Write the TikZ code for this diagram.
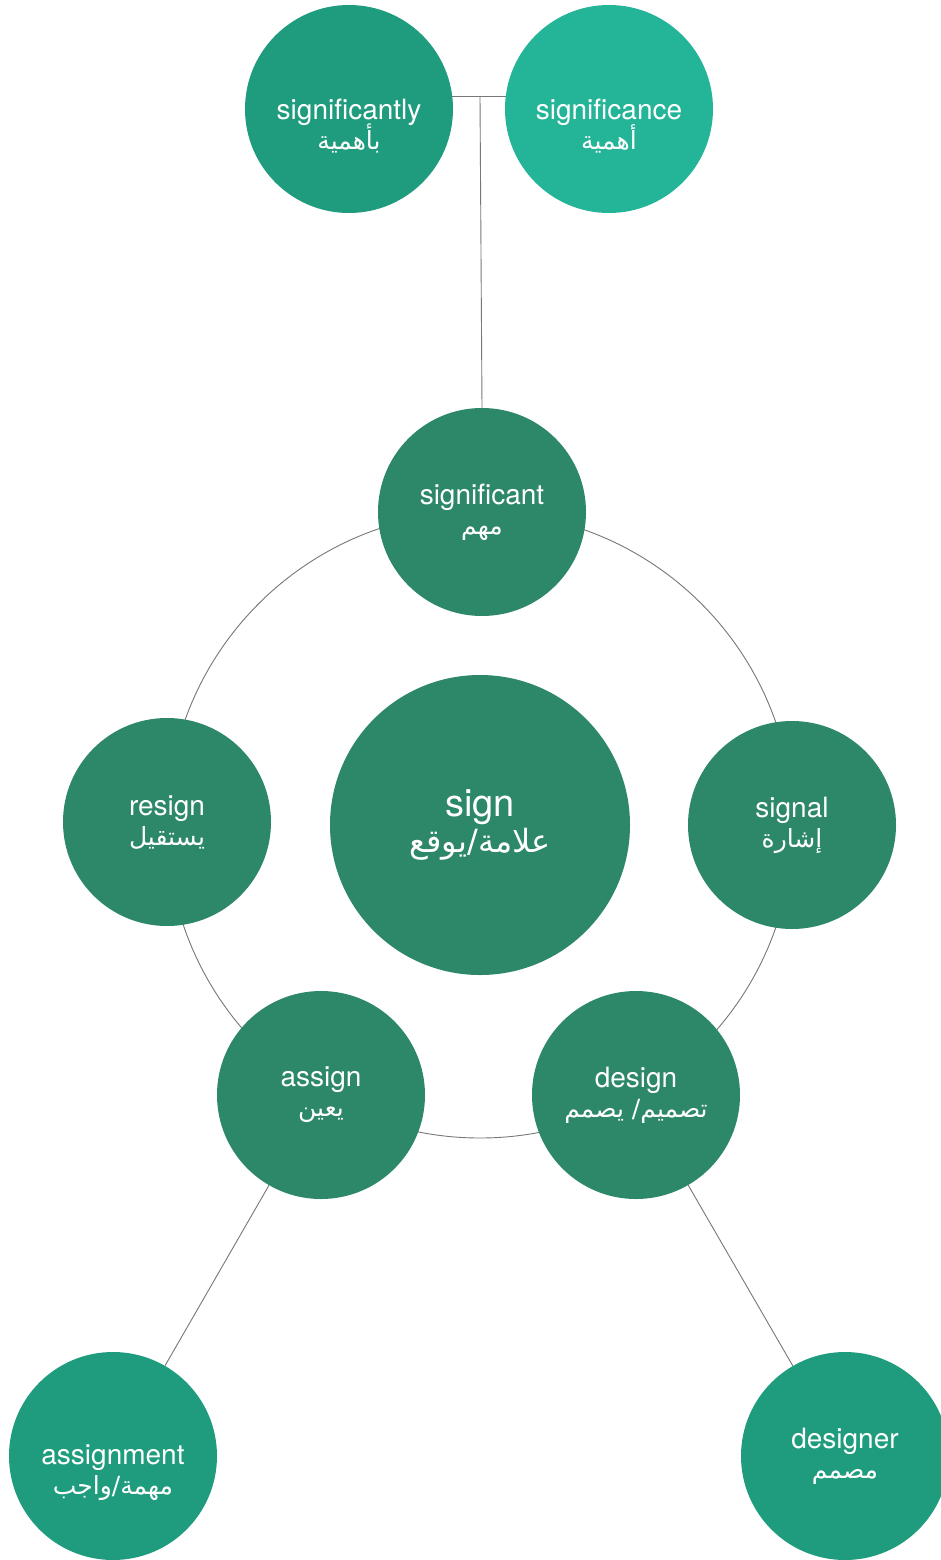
\documentclass[tikz,border=0pt]{standalone}
\usepackage{fontspec}
\setmainfont{TeX Gyre Heros}
\newfontfamily\arabicfont[Script=Arabic]{DejaVu Sans}
\TeXXeTstate=1
\newcommand\artxt[1]{{\arabicfont\fontsize{25}{28}\selectfont\beginR #1\endR}}
\newcommand\artxtbig[1]{{\arabicfont\fontsize{32}{34}\selectfont\beginR #1\endR}}
\newcommand\lowstrut{\rule{0pt}{54pt}}
\definecolor{dk}{HTML}{2D8769}
\definecolor{md}{HTML}{1F9C7D}
\definecolor{lt}{HTML}{24B599}
\definecolor{ln}{HTML}{777777}
\tikzset{
  bub/.style={circle, minimum size=208pt, inner sep=0pt, text=white, align=center,
    font=\fontsize{28}{32}\selectfont},
  bigbub/.style={bub, minimum size=300pt, font=\fontsize{38}{40}\selectfont},
  conn/.style={draw=ln, line width=0.9pt}
}
\begin{document}
\begin{tikzpicture}[x=1pt,y=-1pt]
\useasboundingbox (0,0) rectangle (941,1560);
\fill[white] (0,0) rectangle (941,1560);
% ring behind nodes
\coordinate (c) at (480,825);
\draw[conn] (c) circle (313);
% nodes
\node[bigbub, fill=dk] (sign) at (480,825) {sign\\[-4pt]\artxtbig{علامة/يوقع}};
\node[bub, fill=dk] (significant) at (482,512) {significant\\[-2pt]\artxt{مهم}};
\node[bub, fill=dk] (signal) at (792,825) {signal\\[-2pt]\artxt{إشارة}};
\node[bub, fill=dk] (resign) at (167,822) {resign\\[-2pt]\artxt{يستقيل}};
\node[bub, fill=dk] (assign) at (321,1095) {assign\\[-2pt]\artxt{يعين}};
\node[bub, fill=dk] (design) at (636,1095) {design\\[-2pt]\artxt{تصميم/ يصمم}};
\node[bub, fill=md] (significantly) at (349,109) {\lowstrut significantly\\[-2pt]\artxt{بأهمية}};
\node[bub, fill=lt] (significance) at (609,109) {\lowstrut significance\\[-2pt]\artxt{أهمية}};
\node[bub, fill=md] (assignment) at (113,1456) {\lowstrut assignment\\[-2pt]\artxt{مهمة/واجب}};
\node[bub, fill=md] (designer) at (845,1456) {designer\\[-2pt]\artxt{مصمم}};
% connectors
\coordinate (j) at (480,97);
\draw[conn] (significantly.7) -- (significance.173);
\draw[conn] (significant.north) -- (j);
\draw[conn] (assign) -- (assignment);
\draw[conn] (design) -- (designer);
\end{tikzpicture}
\end{document}
